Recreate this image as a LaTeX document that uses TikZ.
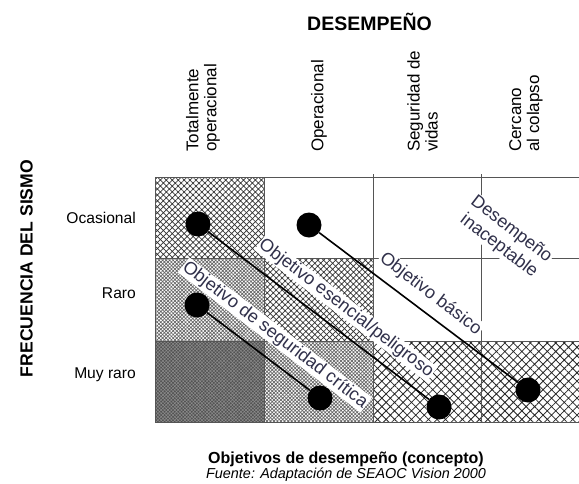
\documentclass[tikz,border=0pt]{standalone}
\usepackage{fontspec}
\setmainfont{Liberation Sans}
\usetikzlibrary{patterns.meta}
\definecolor{gridc}{HTML}{555555}
\definecolor{labc}{HTML}{30304A}
\definecolor{darkc}{HTML}{525252}
\begin{document}
\begin{tikzpicture}[x=1pt,y=-1pt,
  coarse/.style={pattern={Hatch[angle=45,distance=6pt,line width=0.8pt]},pattern color=black!85},
  medium/.style={pattern={Hatch[angle=45,distance=4.2pt,line width=0.7pt]},pattern color=black!80},
  fine/.style={pattern={Hatch[angle=45,distance=2.5pt,line width=0.7pt]},pattern color=black!60},
  darkhatch/.style={pattern={Hatch[angle=45,distance=2.4pt,line width=0.5pt]},pattern color=black!45},
  gridline/.style={draw=gridc,line width=0.9pt},
  lab/.style={font=\fontsize{18}{20.5}\selectfont,text=labc,fill=white,inner sep=1pt,rotate=-37.5,align=center},
  colhead/.style={font=\fontsize{17}{18}\selectfont,rotate=90,anchor=west,align=left,inner sep=0pt},
  rowhead/.style={font=\fontsize{15.6}{18}\selectfont,anchor=east,inner sep=0pt},
  dot/.style={circle,fill=black,minimum size=25pt,inner sep=0pt},
  conn/.style={line width=1.6pt,draw=black}]
\useasboundingbox (0,0) rectangle (579,483);
\fill[white] (0,0) rectangle (579,483);
% cells
\path[medium] (155,177) rectangle (264,258);
\path[fine] (155,258) rectangle (264,341);
\path[medium] (264,258) rectangle (373,341);
\fill[darkc] (155,341) rectangle (264,422);
\path[darkhatch] (155,341) rectangle (264,422);
\path[fine] (264,341) rectangle (373,422);
\path[coarse] (373,341) rectangle (481,422);
\path[coarse] (481,341) rectangle (579,422);
% grid
\foreach \yy in {177,258,341,422} \draw[gridline] (155,\yy) -- (579,\yy);
\draw[gridline] (155,177) -- (155,422);
\draw[gridline] (264,177) -- (264,422);
\draw[gridline] (373,174) -- (373,422);
\draw[gridline] (481,174) -- (481,422);
% headers
\node[font=\bfseries\fontsize{19.5}{22}\selectfont,anchor=base] (title) at (369.5,30) {DESEMPEÑO};
\node[colhead] (c1) at (203,152) {Totalmente\\operacional};
\node[colhead] (c2) at (319,152) {Operacional};
\node[colhead] (c3) at (422.5,152) {Seguridad de\\vidas};
\node[colhead] (c4) at (526,152) {Cercano\\al colapso};
\node[font=\bfseries\fontsize{17.6}{20}\selectfont,rotate=90] (freq) at (26.5,268.5) {FRECUENCIA DEL SISMO};
\node[rowhead] (r1) at (136,218) {Ocasional};
\node[rowhead] (r2) at (136,293) {Raro};
\node[rowhead] (r3) at (136,375) {Muy raro};
% labels
\node[lab] (l1) at (346,308.5) {Objetivo esencial/peligroso};
\node[lab] (l2) at (275,335) {Objetivo de seguridad crítica};
\node[lab] (l3) at (430.5,294) {Objetivo básico};
\node[lab] (l4) at (505,238) {Desempeño\\inaceptable};
% points
\node[dot] (p1) at (198,224) {};
\node[dot] (p2) at (309,225) {};
\node[dot] (p3) at (197,305) {};
\node[dot] (p4) at (320,398) {};
\node[dot] (p5) at (439,407) {};
\node[dot] (p6) at (528,390) {};
\draw[conn] (p1) -- (p5);
\draw[conn] (p2) -- (p6);
\draw[conn] (p3) -- (p4);
% bottom
\node[font=\bfseries\fontsize{16}{18}\selectfont,anchor=base] (cap) at (346,463) {Objetivos de desempeño (concepto)};
\node[font=\itshape\fontsize{14.4}{16}\selectfont,anchor=base] (src) at (346,478) {Fuente: Adaptación de SEAOC Vision 2000};
\end{tikzpicture}
\end{document}
